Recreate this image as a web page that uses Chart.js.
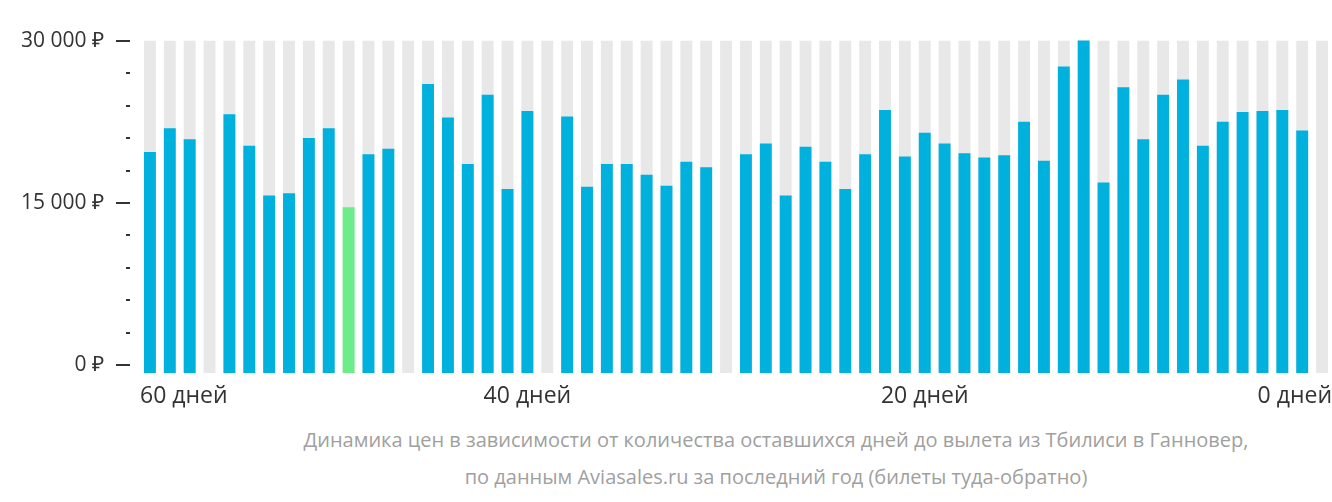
<!DOCTYPE html>
<html>
<head>
<meta charset="utf-8">
<script src="https://cdn.jsdelivr.net/npm/chart.js@4"></script>
<style>
  html, body { margin: 0; background: #fff; font-family: "Open Sans", sans-serif; overflow: hidden; }
  #wrap { width: 1332px; height: 415px; position: relative; }
  .caption { width: 1332px; text-align: center; color: #a0a0a0; font-size: 20px; line-height: 37px; }
</style>
</head>
<body>
<div id="wrap"><canvas id="grafico"></canvas></div>
<div class="caption" style="margin-top:6px; padding-left:110px;">Динамика цен в зависимости от количества оставшихся дней до вылета из Тбилиси в Ганновер,<br>по данным Aviasales.ru за последний год (билеты туда-обратно)</div>
<script>
// дни до вылета: 60 ... 1 (последний слот пустой)
const dias = [];
for (let d = 60; d >= 1; d--) dias.push(d);

const precios = [
  19700, 21900, 20900, null, 23200, 20300, 15700, 15900, 21000, 21900,
  14600, 19500, 20000, null, 26000, 22900, 18600, 25000, 16300, 23500,
  null, 23000, 16500, 18600, 18600, 17600, 16600, 18800, 18300, null,
  19500, 20500, 15700, 20200, 18800, 16300, 19500, 23600, 19300, 21500,
  20500, 19600, 19200, 19400, 22500, 18900, 27600, 31000, 16900, 25700,
  20900, 25000, 26400, 20300, 22500, 23400, 23500, 23600, 21700, null
];
const fondo = dias.map(() => 30000);
const indiceMinimo = 10;

const etiquetasX = { 0: '60 дней', 19: '40 дней', 39: '20 дней', 59: '0 дней' };

const colores = precios.map((p, i) => i === indiceMinimo ? '#6ded8a' : '#00b1dd');

const marcas = {
  id: 'marcas',
  afterDraw(chart) {
    const ctx = chart.ctx;
    const y = chart.scales.y;
    const x = chart.scales.x;
    const area = chart.chartArea;
    ctx.save();
    ctx.strokeStyle = '#333';
    ctx.lineWidth = 2;
    for (let v = 0; v <= 30000; v += 3000) {
      const py = Math.round(y.getPixelForValue(v));
      const largo = v % 15000 === 0 ? 14 : 4;
      ctx.beginPath();
      ctx.moveTo(130 - largo, py);
      ctx.lineTo(130, py);
      ctx.stroke();
    }
    ctx.fillStyle = '#333';
    ctx.font = '23px "Open Sans"';
    ctx.textBaseline = 'middle';
    Object.keys(etiquetasX).forEach(k => {
      const i = +k;
      let px = x.getPixelForValue(i);
      if (i === 0) { ctx.textAlign = 'left'; px = area.left; }
      else if (i === dias.length - 1) { ctx.textAlign = 'right'; px = area.right; }
      else ctx.textAlign = 'center';
      ctx.fillText(etiquetasX[k], px, area.bottom + 23);
    });
    ctx.restore();
  }
};

new Chart(document.getElementById('grafico'), {
  type: 'bar',
  data: {
    labels: dias,
    datasets: [
      { data: precios, backgroundColor: colores, base: -700, grouped: false, order: 1,
        categoryPercentage: 1, barPercentage: 0.6 },
      { data: fondo, backgroundColor: '#e8e8e8', base: -700, grouped: false, order: 2,
        categoryPercentage: 1, barPercentage: 0.6 }
    ]
  },
  options: {
    responsive: true,
    maintainAspectRatio: false,
    animation: false,
    layout: { padding: { top: -32, bottom: 42, right: 0 } },
    plugins: { legend: { display: false }, tooltip: { enabled: false } },
    scales: {
      x: { display: false },
      y: {
        min: -700,
        max: 30000,
        afterFit: s => { s.width = 140; },
        afterBuildTicks: s => { s.ticks = [0, 15000, 30000].map(v => ({ value: v })); },
        grid: { display: false },
        border: { display: false },
        ticks: {
          padding: 28,
          color: '#333',
          font: { family: 'Open Sans', size: 21 },
          callback: v => v.toLocaleString('ru-RU').replace(/\s/g, ' ') + ' ₽'
        }
      }
    }
  },
  plugins: [marcas]
});
</script>
</body>
</html>
